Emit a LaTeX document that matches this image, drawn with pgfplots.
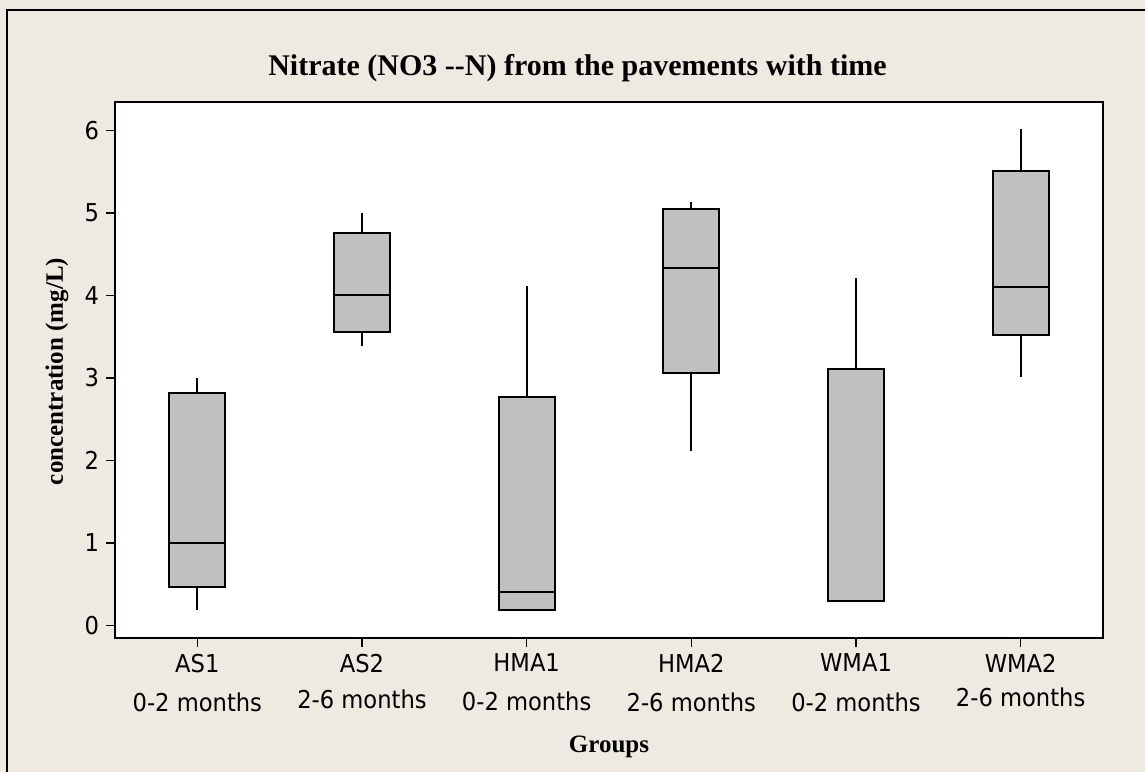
\documentclass[border=0pt]{standalone}
\usepackage{fontspec}
\setmainfont{Liberation Serif}
\newfontfamily\tickfont[FakeStretch=0.92]{DejaVu Sans}
\usepackage{pgfplots}
\pgfplotsset{compat=1.18}
\usepgfplotslibrary{statistics}
\definecolor{bg}{RGB}{238,234,225}
\definecolor{boxgray}{RGB}{192,192,192}
\begin{document}
\begin{tikzpicture}[x=1pt,y=1pt]
\fill[bg] (0,0) rectangle (572.5,386);
\draw[line width=0.8pt] (3.5,0) -- (3.5,381) -- (572.5,381);
\begin{axis}[
  at={(57.5pt,67.15pt)}, anchor=south west,
  width=494pt, height=268pt, scale only axis,
  xmin=-0.5, xmax=5.5, ymin=-0.15, ymax=6.35,
  axis background/.style={fill=white},
  axis line style={line width=0.9pt, black},
  xtick={0,1,2,3,4,5},
  xticklabels={{AS1\\0-2 months},{AS2\\[-1.5pt]2-6 months},{HMA1\\0-2 months},{HMA2\\2-6 months},{WMA1\\[0.5pt]0-2 months},{WMA2\\[-2.5pt]2-6 months}},
  ytick={0,1,2,3,4,5,6},
  tick align=outside, major tick length=4.5pt,
  tick style={line width=0.8pt, black},
  xtick pos=lower, ytick pos=left,
  ticklabel style={font=\tickfont\fontsize{12.3}{19.5}\selectfont},
  xticklabel style={align=center},
  /pgf/number format/assume math mode=true,
  boxplot/draw direction=y,
  boxplot/box extend=0.34, boxplot/whisker extend=0,
  boxplot/every median/.style={line width=1pt},
  boxplot/every box/.style={line width=1pt},
  boxplot/every whisker/.style={line width=0.9pt},
]
\addplot[boxplot prepared={lower whisker=0.19, lower quartile=0.46, median=1.0, upper quartile=2.82, upper whisker=3.0, draw position=0}, draw=black, fill=boxgray] coordinates {};
\addplot[boxplot prepared={lower whisker=3.39, lower quartile=3.56, median=4.0, upper quartile=4.76, upper whisker=5.0, draw position=1}, draw=black, fill=boxgray] coordinates {};
\addplot[boxplot prepared={lower whisker=0.19, lower quartile=0.19, median=0.41, upper quartile=2.77, upper whisker=4.11, draw position=2}, draw=black, fill=boxgray] coordinates {};
\addplot[boxplot prepared={lower whisker=2.11, lower quartile=3.06, median=4.33, upper quartile=5.05, upper whisker=5.13, draw position=3}, draw=black, fill=boxgray] coordinates {};
\addplot[boxplot prepared={lower whisker=0.29, lower quartile=0.29, median=0.29, upper quartile=3.11, upper whisker=4.21, draw position=4}, draw=black, fill=boxgray] coordinates {};
\addplot[boxplot prepared={lower whisker=3.01, lower quartile=3.52, median=4.10, upper quartile=5.51, upper whisker=6.02, draw position=5}, draw=black, fill=boxgray] coordinates {};
\end{axis}
\node[anchor=base, font=\bfseries\fontsize{15}{18}\selectfont] at (288.75,348.15) {Nitrate (NO3 {-}{-}N) from the pavements with time};
\node[font=\bfseries\fontsize{12.5}{15}\selectfont] at (304.5,12.5) {Groups};
\node[rotate=90, font=\bfseries\fontsize{12.5}{15}\selectfont] at (28.5,200.25) {concentration (mg/L)};
\pgfresetboundingbox
\path (0,0) rectangle (572.5,386);
\end{tikzpicture}
\end{document}
